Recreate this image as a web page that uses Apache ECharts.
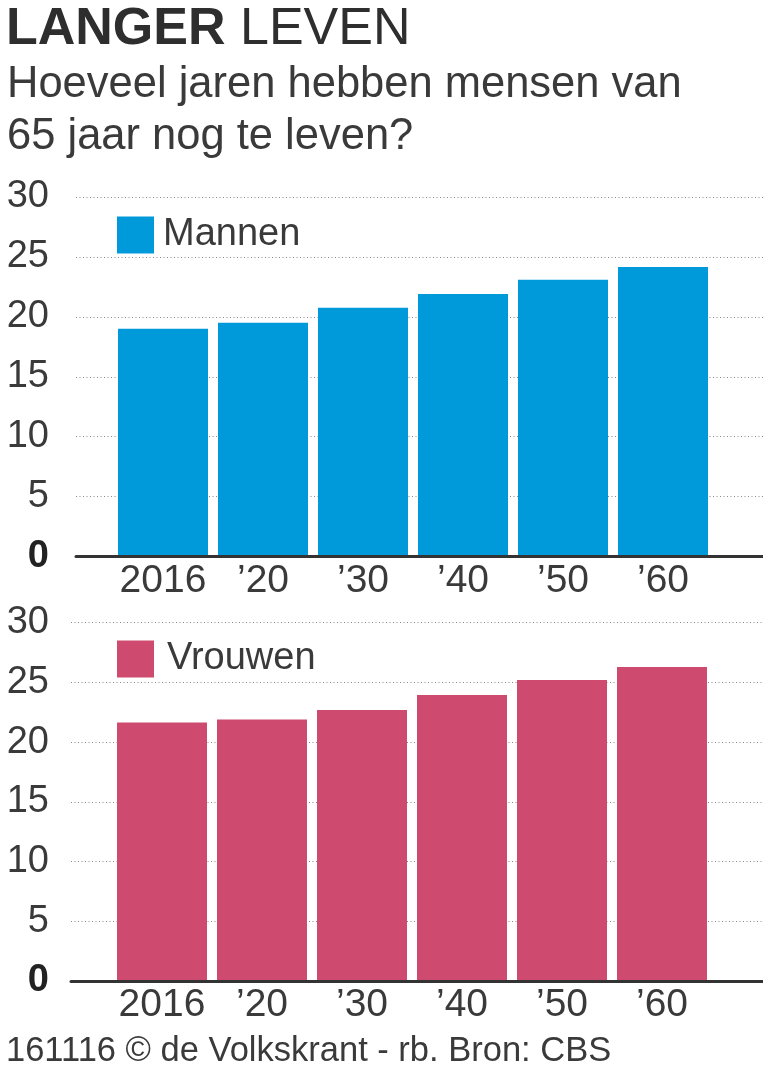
<!DOCTYPE html>
<html>
<head>
<meta charset="utf-8">
<script src="https://cdn.jsdelivr.net/npm/echarts@6/dist/echarts.min.js"></script>
<style>
html,body{margin:0;padding:0;background:#fff;}
#chart{width:763px;height:1066px;}
</style>
</head>
<body>
<div id="chart"></div>
<script>
var categories = ['2016', '\u201920', '\u201930', '\u201940', '\u201950', '\u201960'];
var mannen = [19.0, 19.5, 20.75, 21.9, 23.1, 24.15];
var vrouwen = [21.65, 21.9, 22.7, 23.95, 25.2, 26.3];
var yTicks = [0, 5, 10, 15, 20, 25, 30];

var FONT = '"Liberation Sans", Arial, sans-serif';
var TXT = '#3a3a3a';
var BLUE = '#0099D9';
var PINK = '#CE4B6F';

function yLabel(v) { return v === 0 ? '{z|0}' : String(v); }

function frameY(grid) {
  return {
    type: 'value', gridIndex: grid, min: yTicks[0], max: yTicks[yTicks.length - 1], interval: 5,
    axisLine: {show: false}, axisTick: {show: false},
    axisLabel: {
      formatter: yLabel, fontFamily: FONT, fontSize: 38, color: TXT, margin: grid === 0 ? 27 : 22,
      rich: {z: {fontFamily: FONT, fontSize: 38, fontWeight: 'bold', color: '#222'}}
    },
    splitLine: {show: true, lineStyle: {color: '#8a8a8a', type: [1, 2.5], width: 1}}
  };
}
function frameX(grid) {
  return {
    type: 'value', gridIndex: grid, min: 0, max: 1, z: 10,
    axisLine: {show: true, onZero: false, lineStyle: {color: '#333', width: 3}},
    axisTick: {show: false}, axisLabel: {show: false}, splitLine: {show: false}
  };
}
function barX(grid) {
  return {
    type: 'category', gridIndex: grid, data: categories,
    axisLine: {show: false}, axisTick: {show: false},
    axisLabel: {fontFamily: FONT, fontSize: 39, color: TXT, margin: 5, interval: 0}
  };
}
function barY(grid) {
  return {type: 'value', gridIndex: grid, min: 0, max: 30, show: false, splitLine: {show: false}};
}

var chart = echarts.init(document.getElementById('chart'), null, {renderer: 'canvas'});
chart.setOption({
  backgroundColor: '#fff',
  animation: false,
  title: [
    {
      text: '{b|LANGER} {l|LEVEN}', left: 1, top: -1,
      textStyle: {
        fontFamily: FONT, fontSize: 52, color: '#2e2e2e',
        rich: {
          b: {fontFamily: FONT, fontSize: 52, fontWeight: 'bold', color: '#2e2e2e'},
          l: {fontFamily: FONT, fontSize: 52, fontWeight: 'normal', color: '#2e2e2e'}
        }
      }
    },
    {
      text: 'Hoeveel jaren hebben mensen van\n65 jaar nog te leven?', left: 2, top: 54,
      textStyle: {fontFamily: FONT, fontSize: 43.5, lineHeight: 52, fontWeight: 'normal', color: TXT}
    },
    {
      text: '161116 \u00A9 de Volkskrant - rb. Bron: CBS', left: 1, top: 1029,
      textStyle: {fontFamily: FONT, fontSize: 34.5, fontWeight: 'normal', color: TXT}
    }
  ],
  legend: [
    {
      data: ['Mannen'], left: 112, top: 211, itemWidth: 37, itemHeight: 37, icon: 'rect',
      selectedMode: false,
      textStyle: {fontFamily: FONT, fontSize: 38, color: TXT, padding: [0, 0, 0, 4]}
    },
    {
      data: ['Vrouwen'], left: 112, top: 635, itemWidth: 37, itemHeight: 37, icon: 'rect',
      selectedMode: false,
      textStyle: {fontFamily: FONT, fontSize: 38, color: TXT, padding: [0, 0, 0, 8]}
    }
  ],
  grid: [
    {left: 76, right: 0, top: 197, height: 359.5},
    {left: 113, width: 600, top: 197, height: 359.5},
    {left: 71, right: 0, top: 622.7, height: 358.3},
    {left: 112, width: 600, top: 622.7, height: 358.3}
  ],
  xAxis: [frameX(0), barX(1), frameX(2), barX(3)],
  yAxis: [frameY(0), barY(1), frameY(2), barY(3)],
  series: [
    {
      name: 'Mannen', type: 'bar', xAxisIndex: 1, yAxisIndex: 1, data: mannen,
      barCategoryGap: '10%', itemStyle: {color: BLUE}
    },
    {
      name: 'Vrouwen', type: 'bar', xAxisIndex: 3, yAxisIndex: 3, data: vrouwen,
      barCategoryGap: '10%', itemStyle: {color: PINK}
    }
  ]
});
</script>
</body>
</html>
